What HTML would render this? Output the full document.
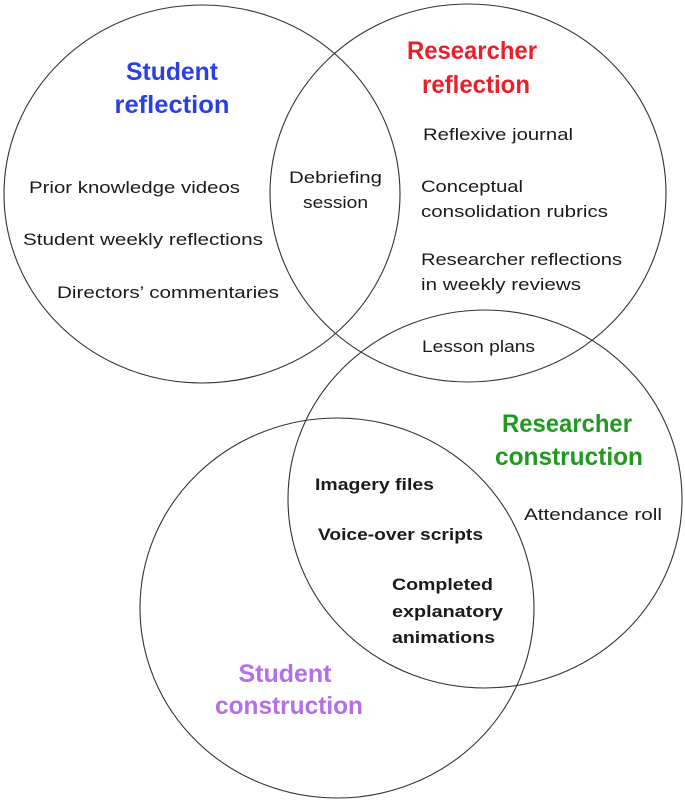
<!DOCTYPE html>
<html><head><meta charset="utf-8"><style>
html,body{margin:0;padding:0;background:#fff;}
svg{display:block;}
text{font-family:"Liberation Sans",sans-serif;fill:#1a1a1a;}
.b{font-size:17px;}
.h{font-size:25px;font-weight:bold;}
.k{font-size:16.5px;font-weight:bold;}
</style></head><body>
<svg width="685" height="805" viewBox="0 0 685 805" xmlns="http://www.w3.org/2000/svg">
<g fill="none" stroke="#333" stroke-width="1.1">
<ellipse cx="202" cy="194" rx="198" ry="189"/>
<ellipse cx="468" cy="193" rx="198" ry="189"/>
<ellipse cx="485" cy="499" rx="197" ry="189"/>
<ellipse cx="337" cy="608" rx="197" ry="190"/>
</g>
<g lengthAdjust="spacingAndGlyphs">
<text class="h" x="172" y="80" text-anchor="middle" style="fill:#2a3fe6" textLength="92" lengthAdjust="spacingAndGlyphs">Student</text>
<text class="h" x="172" y="113" text-anchor="middle" style="fill:#2a3fe6" textLength="115" lengthAdjust="spacingAndGlyphs">reflection</text>
<text class="h" x="472" y="59" text-anchor="middle" style="fill:#e8202a" textLength="130" lengthAdjust="spacingAndGlyphs">Researcher</text>
<text class="h" x="476" y="93" text-anchor="middle" style="fill:#e8202a" textLength="108" lengthAdjust="spacingAndGlyphs">reflection</text>
<text class="b" x="29" y="193" textLength="211" lengthAdjust="spacingAndGlyphs">Prior knowledge videos</text>
<text class="b" x="23" y="245" textLength="240" lengthAdjust="spacingAndGlyphs">Student weekly reflections</text>
<text class="b" x="57" y="298" textLength="222" lengthAdjust="spacingAndGlyphs">Directors’ commentaries</text>
<text class="b" x="289" y="183" textLength="93" lengthAdjust="spacingAndGlyphs">Debriefing</text>
<text class="b" x="303" y="208" textLength="65" lengthAdjust="spacingAndGlyphs">session</text>
<text class="b" x="423" y="140" textLength="150" lengthAdjust="spacingAndGlyphs">Reflexive journal</text>
<text class="b" x="421" y="192" textLength="102" lengthAdjust="spacingAndGlyphs">Conceptual</text>
<text class="b" x="421" y="217" textLength="187" lengthAdjust="spacingAndGlyphs">consolidation rubrics</text>
<text class="b" x="421" y="265" textLength="201" lengthAdjust="spacingAndGlyphs">Researcher reflections</text>
<text class="b" x="421" y="290" textLength="160" lengthAdjust="spacingAndGlyphs">in weekly reviews</text>
<text class="b" x="422" y="352" textLength="113" lengthAdjust="spacingAndGlyphs">Lesson plans</text>
<text class="h" x="567" y="432" text-anchor="middle" style="fill:#1f9a1f" textLength="130" lengthAdjust="spacingAndGlyphs">Researcher</text>
<text class="h" x="569" y="465" text-anchor="middle" style="fill:#1f9a1f" textLength="148" lengthAdjust="spacingAndGlyphs">construction</text>
<text class="k" x="315" y="490" textLength="119" lengthAdjust="spacingAndGlyphs">Imagery files</text>
<text class="k" x="318" y="540" textLength="165" lengthAdjust="spacingAndGlyphs">Voice-over scripts</text>
<text class="k" x="392" y="590" textLength="101" lengthAdjust="spacingAndGlyphs">Completed</text>
<text class="k" x="392" y="617" textLength="111" lengthAdjust="spacingAndGlyphs">explanatory</text>
<text class="k" x="392" y="643" textLength="103" lengthAdjust="spacingAndGlyphs">animations</text>
<text class="b" x="524" y="520" textLength="138" lengthAdjust="spacingAndGlyphs">Attendance roll</text>
<text class="h" x="285" y="682" text-anchor="middle" style="fill:#b46ee6" textLength="93" lengthAdjust="spacingAndGlyphs">Student</text>
<text class="h" x="289" y="714" text-anchor="middle" style="fill:#b46ee6" textLength="148" lengthAdjust="spacingAndGlyphs">construction</text>
</g>
</svg>
</body></html>
